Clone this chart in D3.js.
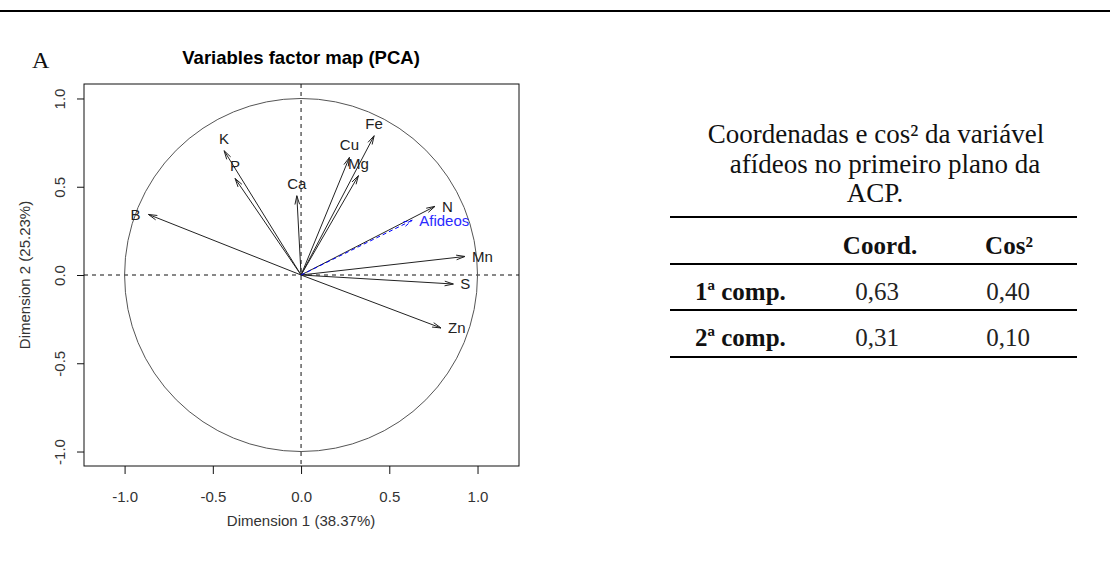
<!DOCTYPE html>
<html>
<head>
<meta charset="utf-8">
<script src="https://cdn.jsdelivr.net/npm/d3@7"></script>
<style>
  body { margin: 0; background: #fff; }
  svg { display: block; }
</style>
</head>
<body>
<svg id="chart" width="1110" height="569"></svg>
<script>
// Active variables: coordinates on the first two principal components
const variables = ["B", "K", "P", "Ca", "Cu", "Mg", "Fe", "N", "Mn", "S", "Zn"];
const dim1 = [-0.865, -0.436, -0.374, -0.024, 0.274, 0.325, 0.414, 0.759, 0.929, 0.863, 0.793];
const dim2 = [0.343, 0.704, 0.547, 0.449, 0.666, 0.563, 0.789, 0.389, 0.105, -0.051, -0.300];

// Supplementary variable (aphids)
const supName = "Afideos";
const supDim1 = 0.63;
const supDim2 = 0.31;

const axisTicks = [-1.0, -0.5, 0.0, 0.5, 1.0];
const plotTitle = "Variables factor map (PCA)";
const xTitle = "Dimension 1 (38.37%)";
const yTitle = "Dimension 2 (25.23%)";
const panelLetter = "A";

// Side table: coordinates and cos² of the aphid variable
const tableTitle = ["Coordenadas e cos² da variável", "afídeos no primeiro plano da", "ACP."];
const tableHeader = ["Coord.", "Cos²"];
const tableRows = ["1ª comp.", "2ª comp."];
const coordValues = [0.63, 0.31];
const cos2Values = [0.40, 0.10];

const svg = d3.select("#chart");
const sans = "'Liberation Sans', Arial, sans-serif";
const serif = "'Liberation Serif', 'Times New Roman', serif";
const fs = 15; // base text size of the plot

const rLocale = d3.formatLocale({ decimal: ".", thousands: ",", grouping: [3], currency: ["", ""], minus: "-" });
const fmtTick = rLocale.format(".1f");
const ptLocale = d3.formatLocale({ decimal: ",", thousands: ".", grouping: [3], currency: ["", ""], minus: "-" });
const fmtTable = ptLocale.format(".2f");

// Page rule across the top
svg.append("line")
  .attr("x1", 0).attr("x2", 1110).attr("y1", 11).attr("y2", 11)
  .attr("stroke", "#000").attr("stroke-width", 2);

// ---------- Correlation circle ----------
const box = { left: 84, right: 519, top: 84, bottom: 466 };
const x = d3.scaleLinear().domain([-1.23, 1.235]).range([box.left, box.right]);
const y = d3.scaleLinear().domain([-1.082, 1.082]).range([box.bottom, box.top]);

svg.append("text")
  .attr("x", 32).attr("y", 68)
  .attr("font-family", serif).attr("font-size", 24)
  .attr("fill", "#111")
  .text(panelLetter);

svg.append("text")
  .attr("x", x(0)).attr("y", 64)
  .attr("text-anchor", "middle")
  .attr("font-family", sans).attr("font-weight", "bold").attr("font-size", 18.5)
  .attr("fill", "#000")
  .text(plotTitle);

// Axes
const xAxis = svg.append("g")
  .attr("transform", `translate(0,${box.bottom})`)
  .call(d3.axisBottom(x).tickValues(axisTicks).tickFormat(fmtTick).tickSize(8).tickPadding(17));
const yAxis = svg.append("g")
  .attr("transform", `translate(${box.left},0)`)
  .call(d3.axisLeft(y).tickValues(axisTicks).tickFormat(fmtTick).tickSize(7));
[xAxis, yAxis].forEach(g => {
  g.select(".domain").remove();
  g.selectAll(".tick line").attr("stroke", "#111");
  g.selectAll(".tick text").attr("font-family", sans).attr("font-size", fs).attr("fill", "#333");
});
yAxis.selectAll(".tick text")
  .attr("x", null).attr("dy", null)
  .attr("text-anchor", "middle")
  .attr("transform", "translate(-19,0) rotate(-90)");

svg.append("text")
  .attr("x", x(0)).attr("y", 526)
  .attr("text-anchor", "middle")
  .attr("font-family", sans).attr("font-size", fs).attr("fill", "#333")
  .text(xTitle);
svg.append("text")
  .attr("transform", `translate(30,${y(0)}) rotate(-90)`)
  .attr("text-anchor", "middle")
  .attr("font-family", sans).attr("font-size", fs).attr("fill", "#333")
  .text(yTitle);

// Dashed reference axes
svg.append("line")
  .attr("x1", box.left).attr("x2", box.right).attr("y1", y(0)).attr("y2", y(0))
  .attr("stroke", "#111").attr("stroke-dasharray", "4,4");
svg.append("line")
  .attr("x1", x(0)).attr("x2", x(0)).attr("y1", box.top).attr("y2", box.bottom)
  .attr("stroke", "#111").attr("stroke-dasharray", "4,4");

// Unit circle
svg.append("ellipse")
  .attr("cx", x(0)).attr("cy", y(0))
  .attr("rx", x(1) - x(0)).attr("ry", y(0) - y(1))
  .attr("fill", "none").attr("stroke", "#555").attr("stroke-width", 1);

// Plot frame
svg.append("rect")
  .attr("x", box.left).attr("y", box.top)
  .attr("width", box.right - box.left).attr("height", box.bottom - box.top)
  .attr("fill", "none").attr("stroke", "#111");

// Arrow with open head (15° half-angle)
function arrowPath(x0, y0, x1, y1, len = 9, ang = Math.PI / 12) {
  const a = Math.atan2(y1 - y0, x1 - x0);
  const p = d3.path();
  p.moveTo(x0, y0); p.lineTo(x1, y1);
  p.moveTo(x1 - len * Math.cos(a - ang), y1 - len * Math.sin(a - ang));
  p.lineTo(x1, y1);
  p.lineTo(x1 - len * Math.cos(a + ang), y1 - len * Math.sin(a + ang));
  return p.toString();
}

// Label side chosen from the dominant coordinate
function placeLabel(sel, vx, vy) {
  const px = x(vx), py = y(vy);
  if (Math.abs(vx) > Math.abs(vy)) {
    sel.attr("x", vx >= 0 ? px + 7 : px - 8).attr("y", py)
      .attr("dy", "0.36em")
      .attr("text-anchor", vx >= 0 ? "start" : "end");
  } else {
    sel.attr("x", px).attr("y", vy >= 0 ? py - 7 : py + 17)
      .attr("text-anchor", "middle");
  }
}

const vars = variables.map((name, i) => ({ name, d1: dim1[i], d2: dim2[i] }));
const g = svg.append("g");
g.selectAll("path.var")
  .data(vars).join("path")
  .attr("class", "var")
  .attr("d", d => arrowPath(x(0), y(0), x(d.d1), y(d.d2)))
  .attr("fill", "none").attr("stroke", "#222").attr("stroke-width", 1);
g.selectAll("text.var")
  .data(vars).join("text")
  .attr("class", "var")
  .attr("font-family", sans).attr("font-size", fs).attr("fill", "#222")
  .text(d => d.name)
  .each(function (d) { placeLabel(d3.select(this), d.d1, d.d2); });

// Supplementary variable in blue, dashed
g.append("path")
  .attr("d", arrowPath(x(0), y(0), x(supDim1), y(supDim2)))
  .attr("fill", "none").attr("stroke", "#0000ff").attr("stroke-width", 1)
  .attr("stroke-dasharray", "4,3");
g.append("text")
  .attr("font-family", sans).attr("font-size", fs).attr("fill", "#2a2aff")
  .text(supName)
  .call(placeLabel, supDim1, supDim2);

// ---------- Table ----------
const tLeft = 670, tRight = 1077;
const titleCenters = [876, 885, 875];
const titleBaselines = [143, 173, 202];
tableTitle.forEach((line, i) => {
  svg.append("text")
    .attr("x", titleCenters[i]).attr("y", titleBaselines[i])
    .attr("text-anchor", "middle")
    .attr("font-family", serif).attr("font-size", 27).attr("fill", "#111")
    .text(line);
});

const rules = [217, 264, 310, 357];
svg.selectAll("line.rule")
  .data(rules).join("line")
  .attr("class", "rule")
  .attr("x1", tLeft).attr("x2", tRight)
  .attr("y1", d => d).attr("y2", d => d)
  .attr("stroke", "#000").attr("stroke-width", 2);

const colCenters = [880, 1009];
tableHeader.forEach((h, i) => {
  svg.append("text")
    .attr("x", colCenters[i]).attr("y", 254)
    .attr("text-anchor", "middle")
    .attr("font-family", serif).attr("font-weight", "bold").attr("font-size", 25)
    .attr("fill", "#111")
    .text(h);
});

const rowBaselines = [300, 346];
tableRows.forEach((r, i) => {
  svg.append("text")
    .attr("x", 695).attr("y", rowBaselines[i])
    .attr("font-family", serif).attr("font-weight", "bold").attr("font-size", 25)
    .attr("fill", "#111")
    .text(r);
  svg.append("text")
    .attr("x", colCenters[0] - 3).attr("y", rowBaselines[i])
    .attr("text-anchor", "middle")
    .attr("font-family", serif).attr("font-size", 25).attr("fill", "#222")
    .text(fmtTable(coordValues[i]));
  svg.append("text")
    .attr("x", colCenters[1] - 1).attr("y", rowBaselines[i])
    .attr("text-anchor", "middle")
    .attr("font-family", serif).attr("font-size", 25).attr("fill", "#222")
    .text(fmtTable(cos2Values[i]));
});
</script>
</body>
</html>
